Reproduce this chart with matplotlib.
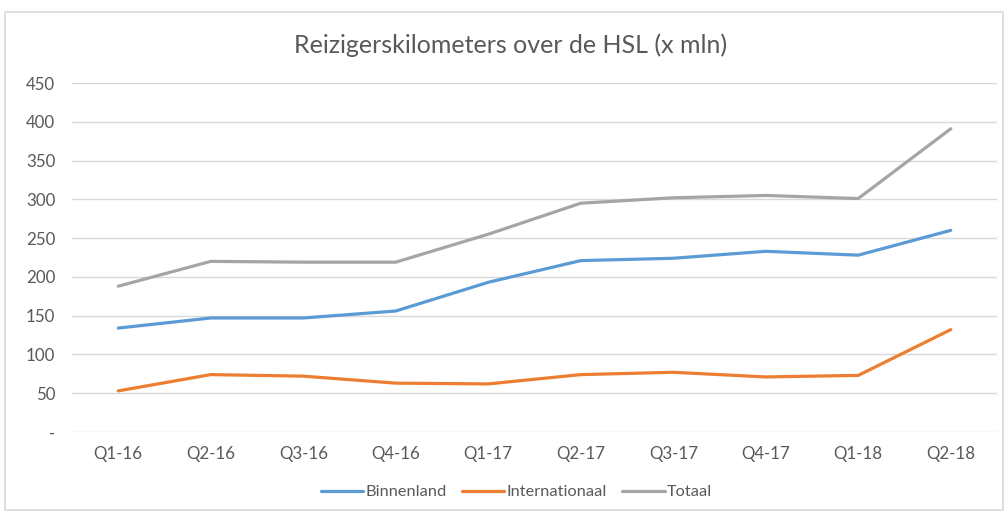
import matplotlib.pyplot as plt
from matplotlib.patches import Rectangle

# Data (x mln reizigerskilometers)
kwartalen = ['Q1-16', 'Q2-16', 'Q3-16', 'Q4-16', 'Q1-17', 'Q2-17', 'Q3-17', 'Q4-17', 'Q1-18', 'Q2-18']
binnenland = [134, 147, 147, 156, 193, 221, 224, 233, 228, 260]
internationaal = [53, 74, 72, 63, 62, 74, 77, 71, 73, 132]
totaal = [188, 220, 219, 219, 255, 295, 302, 305, 301, 391]

y_ticks = [0, 50, 100, 150, 200, 250, 300, 350, 400, 450]
y_labels = ['-', '50', '100', '150', '200', '250', '300', '350', '400', '450']

plt.rcParams['font.family'] = ['Lato', 'DejaVu Sans']
txt = '#595959'

fig = plt.figure(figsize=(10.08, 5.14), dpi=100)
ax = fig.add_axes([72 / 1008, 1 - 432 / 514, 925 / 1008, 349 / 514])

# kader rond de grafiek
fig.patches.append(Rectangle((5 / 1008, 4 / 514), 998 / 1008, 498 / 514,
                             transform=fig.transFigure, fill=False,
                             edgecolor='#D9D9D9', linewidth=1.2))

x = range(len(kwartalen))
ax.plot(x, binnenland, color='#5B9BD5', linewidth=2.3, label='Binnenland', solid_capstyle='round')
ax.plot(x, internationaal, color='#ED7D31', linewidth=2.3, label='Internationaal', solid_capstyle='round')
ax.plot(x, totaal, color='#A5A5A5', linewidth=2.3, label='Totaal', solid_capstyle='round')

ax.set_xlim(-0.5, len(kwartalen) - 0.5)
ax.set_ylim(0, 450)
ax.set_yticks(y_ticks)
ax.set_yticklabels(y_labels)
ax.set_xticks(list(x))
ax.set_xticklabels(kwartalen)
ax.tick_params(length=0, colors=txt, labelsize=12.2)
ax.tick_params(axis='y', pad=12)
ax.tick_params(axis='x', pad=10)
ax.grid(axis='y', color='#D9D9D9', linewidth=1)
ax.set_axisbelow(True)
for s in ax.spines.values():
    s.set_visible(False)

fig.text(0.507, 1 - 45 / 514, 'Reizigerskilometers over de HSL (x mln)',
         ha='center', va='center', fontsize=18, color=txt)

fig.legend(loc='center', bbox_to_anchor=(0.5124, 1 - 492 / 514), ncol=3, frameon=False,
           fontsize=11.8, labelcolor=txt, handlelength=2.6, handletextpad=0.15,
           columnspacing=0.9)

fig.savefig('out.png', dpi=100)
